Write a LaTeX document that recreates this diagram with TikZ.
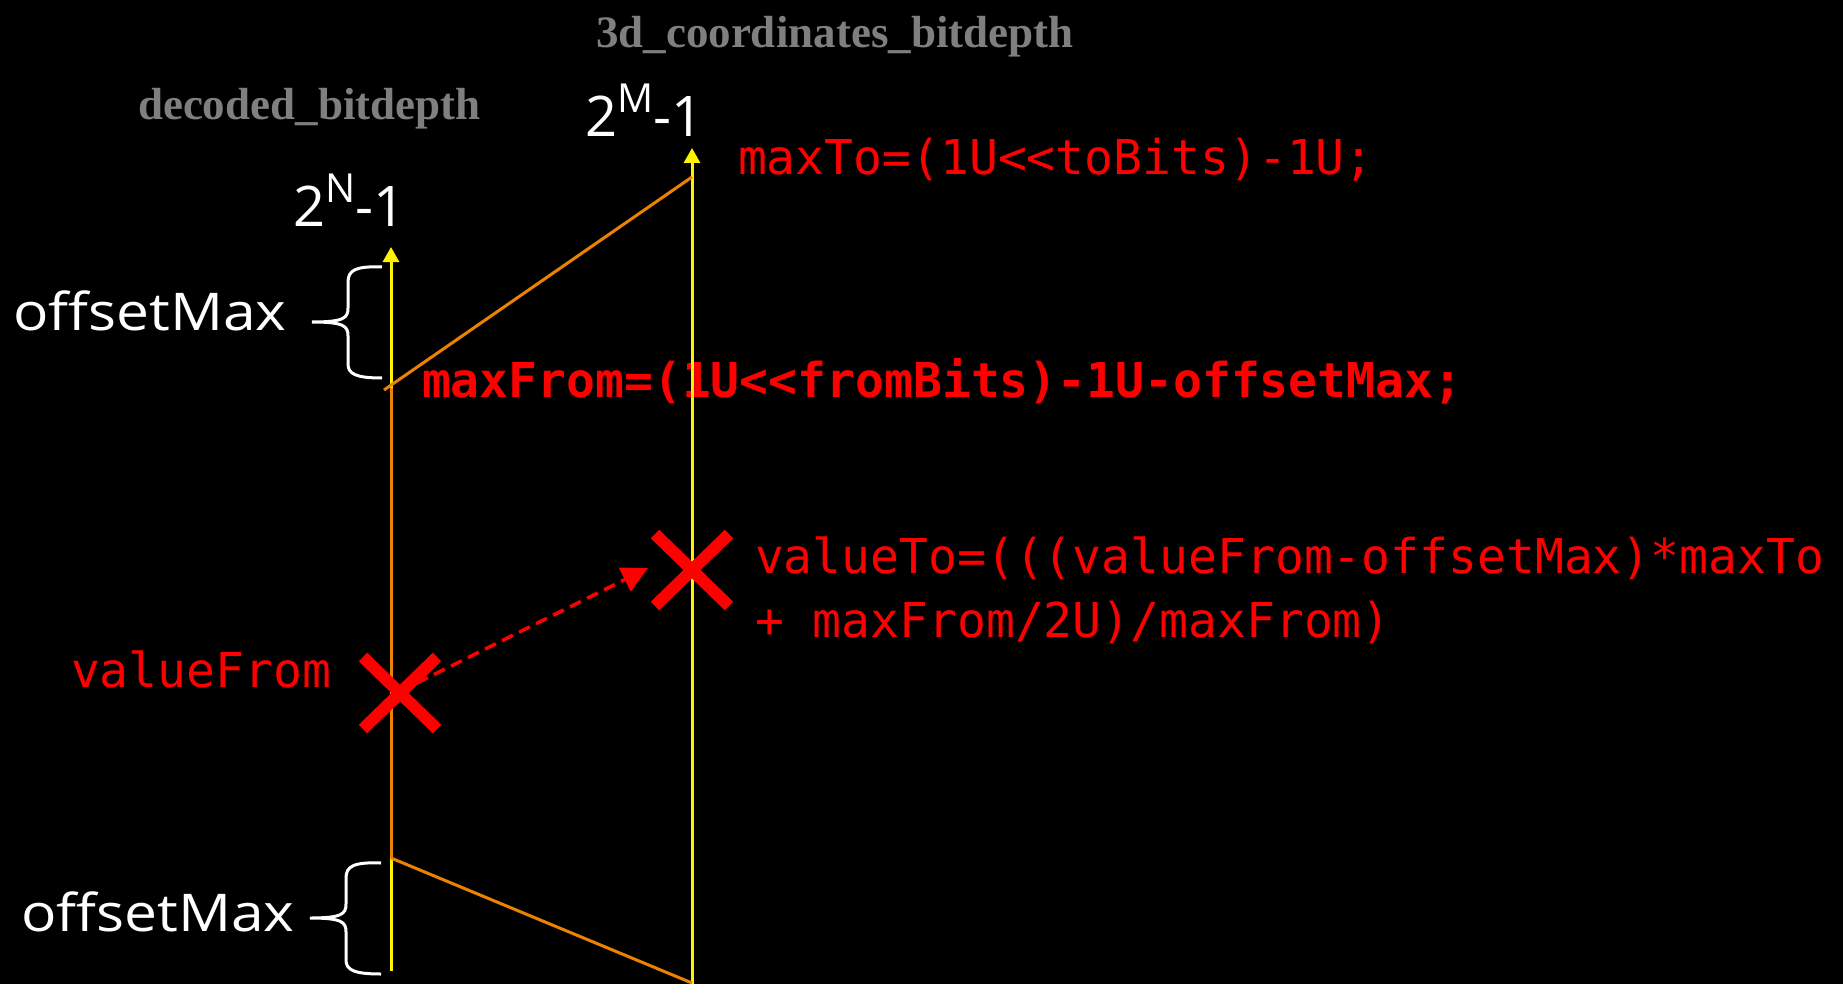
\documentclass[tikz,border=0pt]{standalone}
\usepackage{fontspec}
\usetikzlibrary{arrows.meta,shapes.misc}
\newfontfamily\lblfont[FakeStretch=1.13]{Open Sans}
\newfontfamily\numfont{Open Sans}
\newfontfamily\codefont{DejaVu Sans Mono}
\newfontfamily\titlefont{Liberation Serif}
\definecolor{myorange}{RGB}{235,130,0}
\definecolor{mygray}{RGB}{127,127,127}
\newcommand\LLt{<\kern0pt<}
\begin{document}
\begin{tikzpicture}[x=1pt,y=-1pt,
  txt/.style={anchor=base west, inner sep=0pt, outer sep=0pt},
  titletxt/.style={txt, text=mygray, font=\titlefont\bfseries\fontsize{45}{54}\selectfont},
  wlabel/.style={txt, text=white, font=\lblfont\fontsize{52}{62}\selectfont},
  numlbl/.style={txt, text=white, font=\numfont\fontsize{56}{66}\selectfont},
  code/.style={txt, text=red, font=\codefont\fontsize{48}{64}\selectfont},
  codeb/.style={txt, text=red, font=\codefont\bfseries\fontsize{48}{64}\selectfont},
  axisline/.style={draw=yellow, line width=3pt, -{Triangle[length=15pt,width=16pt]}},
  mapline/.style={draw=myorange, line width=3pt},
  bracepath/.style={draw=white, line width=3pt},
  xmark/.style={cross out, draw=red, line width=12pt, minimum width=62pt, minimum height=60pt, inner sep=0pt},
  flow/.style={draw=red, line width=3.5pt, dash pattern=on 12pt off 7pt, -{Triangle[length=26pt,width=26pt]}}
]
\fill[black] (0,0) rectangle (1843,984);
\useasboundingbox (0,0) rectangle (1843,984);

% texts
\node[titletxt] (t3d) at (596,48) {3d\_coordinates\_bitdepth};
\node[titletxt] (tdec) at (138,120) {decoded\_bitdepth};
\node[numlbl] (tM) at (585,137) {2\raisebox{24pt}{\fontsize{40}{40}\selectfont M}-1};
\node[numlbl] (tN) at (293,227) {2\raisebox{24pt}{\fontsize{40}{40}\selectfont N}-1};
\node[wlabel] (offTop) at (13,330) {offsetMax};
\node[wlabel] (offBot) at (21,931) {offsetMax};
\node[code] (maxTo) at (738,175) {maxTo=(1U\LLt toBits)-1U;};
\node[codeb] (maxFrom) at (422,397) {maxFrom=(1U\LLt fromBits)-1U-offsetMax;};
\node[code] (valTo1) at (755,573) {valueTo=(((valueFrom-offsetMax)*maxTo};
\node[code] (valTo2) at (755,637) {+ maxFrom/2U)/maxFrom)};
\node[code] (valFrom) at (71,687) {valueFrom};

% coordinates
\coordinate (Lbot) at (391,971);
\coordinate (Ltop) at (391,247);
\coordinate (Rbot) at (692,986);
\coordinate (Rtop) at (692,148);
\coordinate (Lmax) at (391,388);
\coordinate (LmaxExt) at (384,390);
\coordinate (Lmin) at (391,858);
\coordinate (RmaxTo) at (692,177);
\coordinate (Rzero) at (692,983);
\coordinate (arrS) at (417,683);
\coordinate (arrE) at (648,568);

% axes
\draw[axisline] (Lbot) -- (Ltop);
\draw[axisline] (Rbot) -- (Rtop);
% mapping lines
\draw[mapline] (Lmin) -- (Lmax);
\draw[mapline] (LmaxExt) -- (RmaxTo);
\draw[mapline] (Lmin) -- (Rzero);

% braces
\draw[bracepath] (382,267) .. controls (356,266) and (348,270) .. (348,282) -- (348,308)
  .. controls (348,318) and (344,322) .. (312,322)
  .. controls (344,322) and (348,326) .. (348,336) -- (348,364)
  .. controls (348,374) and (356,378) .. (382,378);
\draw[bracepath] (381,863) .. controls (354,862) and (346,866) .. (346,878) -- (346,904)
  .. controls (346,914) and (342,918) .. (310,918)
  .. controls (342,918) and (346,922) .. (346,932) -- (346,960)
  .. controls (346,970) and (354,974) .. (381,974);

% marks
\node[xmark] (vf) at (400,693) {};
\node[xmark] (vt) at (692,570) {};
\draw[flow] (arrS) -- (arrE);
\end{tikzpicture}
\end{document}
